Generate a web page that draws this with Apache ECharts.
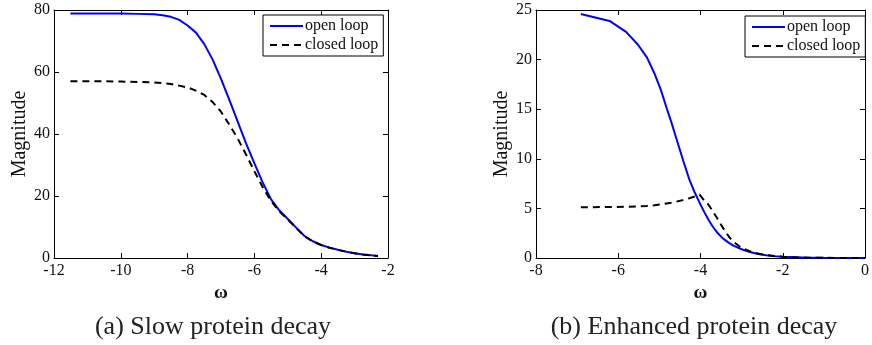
<!DOCTYPE html>
<html>
<head>
<meta charset="utf-8">
<script src="https://cdn.jsdelivr.net/npm/echarts@6/dist/echarts.min.js"></script>
<style>
html,body{margin:0;padding:0;background:#fff;}
#c{width:872px;height:345px;}
</style>
</head>
<body>
<div id="c"></div>
<script>
// ---- Panel (a): Slow protein decay ----
const aX = [-11.51,-11,-10.5,-10,-9.5,-9,-8.75,-8.5,-8.25,-8,-7.75,-7.5,-7.25,-7,-6.75,-6.5,-6.25,-6,-5.75,-5.5,-5.25,-5,-4.75,-4.5,-4.25,-4,-3.75,-3.5,-3.25,-3,-2.75,-2.5,-2.3];
const aOpen = [78.9,78.9,78.9,78.85,78.75,78.6,78.3,77.8,76.8,75,72.7,69,64,57.8,51,44,37,30.5,24.3,18.9,15.3,12.6,9.8,7.1,5.4,4.2,3.35,2.65,2.05,1.55,1.15,0.88,0.68];
const aClosed = [57,57,57,56.9,56.8,56.6,56.4,56.1,55.6,55,54,52.6,50.3,47.2,43,38.5,33.4,28,22.8,18.3,15,12.4,9.7,7.0,5.35,4.15,3.3,2.6,2.0,1.5,1.1,0.85,0.65];
const aXTicks = {min:-12, max:-2, interval:2};
const aYTicks = {min:0, max:80, interval:20};

// ---- Panel (b): Enhanced protein decay ----
const bX = [-6.91,-6.21,-5.81,-5.52,-5.30,-5.12,-4.96,-4.83,-4.71,-4.61,-4.42,-4.27,-4.14,-4.02,-3.91,-3.8,-3.7,-3.6,-3.5,-3.4,-3.3,-3.2,-3.0,-2.8,-2.6,-2.4,-2.2,-2.0,-1.5,-1.0,-0.5,0];
const bOpen = [24.6,23.9,22.8,21.5,20.2,18.6,16.9,15.2,13.7,12.35,9.8,7.9,6.6,5.55,4.65,3.8,3.15,2.6,2.15,1.8,1.5,1.25,0.88,0.6,0.41,0.28,0.18,0.12,0.04,0.015,0.005,0.002];
const bClosed = [5.12,5.14,5.16,5.2,5.25,5.32,5.4,5.5,5.58,5.66,5.85,6.02,6.2,6.38,5.8,5.35,4.7,4.05,3.35,2.7,2.1,1.65,1.0,0.68,0.45,0.3,0.19,0.12,0.04,0.015,0.005,0.002];
const bXTicks = {min:-8, max:0, interval:2};
const bYTicks = {min:0, max:25, interval:5};

const seriesNames = ['open loop','closed loop'];
const captions = ['(a) Slow protein decay','(b) Enhanced protein decay'];
const xName = 'ω';
const yName = 'Magnitude';

const FONT = '"Liberation Serif","Times New Roman",serif';
const TXT = '#111';

function pairs(xs, ys){ return xs.map((x,i)=>[x, ys[i]]); }

const grids = [
  {left:54, right:484, top:10, bottom:87},
  {left:536, right:2, top:10, bottom:87}
];

function mainX(g, t){
  return {type:'value', gridIndex:g, position:'bottom', min:t.min, max:t.max, interval:t.interval,
    name:xName, nameLocation:'middle', nameGap:21,
    nameTextStyle:{fontFamily:FONT, fontSize:19, color:TXT, fontWeight:'bold'},
    axisLine:{show:true, onZero:false, lineStyle:{color:'#000', width:1}},
    axisTick:{show:true, inside:true, length:5, lineStyle:{color:'#000'}},
    axisLabel:{show:true, margin:5, fontFamily:FONT, fontSize:16, color:TXT, showMinLabel:true, showMaxLabel:true},
    splitLine:{show:false}};
}
function mirrorX(g, t){
  return {type:'value', gridIndex:g, position:'top', min:t.min, max:t.max, interval:t.interval,
    axisLine:{show:true, onZero:false, lineStyle:{color:'#000', width:1}},
    axisTick:{show:true, inside:true, length:5, lineStyle:{color:'#000'}},
    axisLabel:{show:false}, splitLine:{show:false}};
}
function mainY(g, t){
  return {type:'value', gridIndex:g, position:'left', min:t.min, max:t.max, interval:t.interval,
    name:yName, nameLocation:'middle', nameGap:24,
    nameTextStyle:{fontFamily:FONT, fontSize:20, color:TXT},
    axisLine:{show:true, onZero:false, lineStyle:{color:'#000', width:1}},
    axisTick:{show:true, inside:true, length:5, lineStyle:{color:'#000'}},
    axisLabel:{show:true, margin:4, fontFamily:FONT, fontSize:16, color:TXT},
    splitLine:{show:false}};
}
function mirrorY(g, t){
  return {type:'value', gridIndex:g, position:'right', min:t.min, max:t.max, interval:t.interval,
    axisLine:{show:true, onZero:false, lineStyle:{color:'#000', width:1}},
    axisTick:{show:true, inside:true, length:5, lineStyle:{color:'#000'}},
    axisLabel:{show:false}, splitLine:{show:false}};
}

function openSeries(xi, yi, d){
  return {type:'line', name:seriesNames[0], xAxisIndex:xi, yAxisIndex:yi, data:d,
    showSymbol:false, symbol:'none', smooth:false, animation:false, z:2,
    lineStyle:{color:'#0000ff', width:2}, itemStyle:{color:'#0000ff'}};
}
function closedSeries(xi, yi, d){
  return {type:'line', name:seriesNames[1], xAxisIndex:xi, yAxisIndex:yi, data:d,
    showSymbol:false, symbol:'none', smooth:false, animation:false, z:3,
    lineStyle:{color:'#000', width:2, type:[7,5]}, itemStyle:{color:'#000'}};
}

function legendAt(left, top){
  return {left:left, top:top, orient:'vertical', data:seriesNames,
    itemWidth:33, itemHeight:14, itemGap:3, padding:[3,5,3,6],
    borderColor:'#000', borderWidth:1, backgroundColor:'#fff', borderRadius:0,
    selectedMode:false,
    itemStyle:{opacity:0},
    textStyle:{fontFamily:FONT, fontSize:16, color:TXT, padding:[0,0,0,-3]}};
}

const option = {
  animation:false,
  backgroundColor:'#fff',
  grid:grids,
  xAxis:[mainX(0,aXTicks), mirrorX(0,aXTicks), mainX(1,bXTicks), mirrorX(1,bXTicks)],
  yAxis:[mainY(0,aYTicks), mirrorY(0,aYTicks), mainY(1,bYTicks), mirrorY(1,bYTicks)],
  legend:[legendAt(263,15), legendAt(745,16)],
  series:[
    openSeries(0,0,pairs(aX,aOpen)),
    closedSeries(0,0,pairs(aX,aClosed)),
    openSeries(2,2,pairs(bX,bOpen)),
    closedSeries(2,2,pairs(bX,bClosed))
  ],
  graphic:[
    {type:'text', x:213, y:327, style:{text:captions[0], fontFamily:FONT, fontSize:26, fill:'#222', align:'center', verticalAlign:'middle'}},
    {type:'text', x:694, y:327, style:{text:captions[1], fontFamily:FONT, fontSize:26, fill:'#222', align:'center', verticalAlign:'middle'}}
  ]
};

const chart = echarts.init(document.getElementById('c'), null, {renderer:'canvas'});
chart.setOption(option);
</script>
</body>
</html>
